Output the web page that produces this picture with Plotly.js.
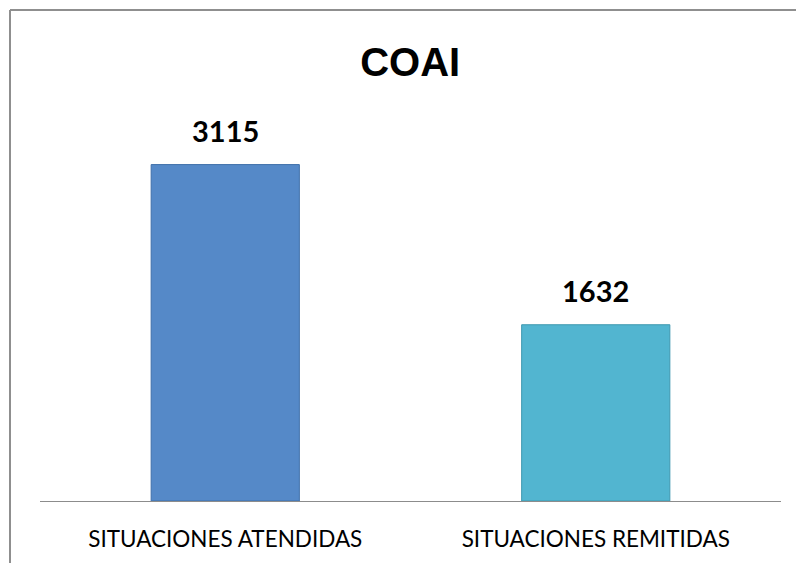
<!DOCTYPE html>
<html>
<head>
<meta charset="utf-8">
<script src="https://cdn.plot.ly/plotly-3.0.1.min.js"></script>
<style>html,body{margin:0;padding:0;background:#fff;}#chart{width:796px;height:563px;}</style>
</head>
<body>
<div id="chart"></div>
<script>
const categories = ["SITUACIONES ATENDIDAS", "SITUACIONES REMITIDAS"];
const values = [3115, 1632];
const barColors = ["#5589C8", "#52B5D0"];
const edgeColors = ["#3F6FAA", "#3E98B0"];
const chartTitle = "COAI";

const trace = {
  type: "bar",
  x: categories,
  y: values,
  width: 0.4,
  marker: {color: barColors, line: {color: edgeColors, width: 1}},
  hoverinfo: "skip"
};

const annotations = categories.map((c, i) => ({
  x: c, y: values[i], xref: "x", yref: "y",
  text: "<b>" + values[i] + "</b>",
  showarrow: false, yanchor: "bottom", yshift: 15,
  font: {family: "Lato, sans-serif", size: 29, color: "#000"}
}));

const layout = {
  width: 796, height: 563,
  margin: {l: 40, r: 15, t: 123, b: 62},
  paper_bgcolor: "#fff", plot_bgcolor: "#fff",
  showlegend: false,
  title: {
    text: "<b>" + chartTitle + "</b>",
    font: {family: "Liberation Sans, Arial, sans-serif", size: 40, color: "#000"},
    x: 0.4995, xanchor: "center", xref: "paper",
    y: 1 - 62/563, yanchor: "middle", yref: "container"
  },
  xaxis: {
    showgrid: false, zeroline: false,
    showline: true, linecolor: "#8c8c8c", linewidth: 1,
    ticks: "", ticklabelstandoff: 18,
    tickfont: {family: "Lato, sans-serif", size: 22.5, color: "#000"},
    fixedrange: true
  },
  yaxis: {
    range: [0, 3500], showgrid: false, zeroline: false,
    showline: false, showticklabels: false, ticks: "",
    fixedrange: true
  },
  annotations: annotations,
  shapes: [
    {type: "line", xref: "paper", yref: "paper", x0: -30/741, x1: 1.05, y0: (563-62-10)/378, y1: (563-62-10)/378,
     line: {color: "#8f8f8f", width: 2}},
    {type: "line", xref: "paper", yref: "paper", x0: -30/741, x1: -30/741, y0: (563-62-10)/378, y1: -0.2,
     line: {color: "#8f8f8f", width: 2}}
  ]
};

Plotly.newPlot("chart", [trace], layout, {displayModeBar: false, staticPlot: true});
</script>
</body>
</html>
